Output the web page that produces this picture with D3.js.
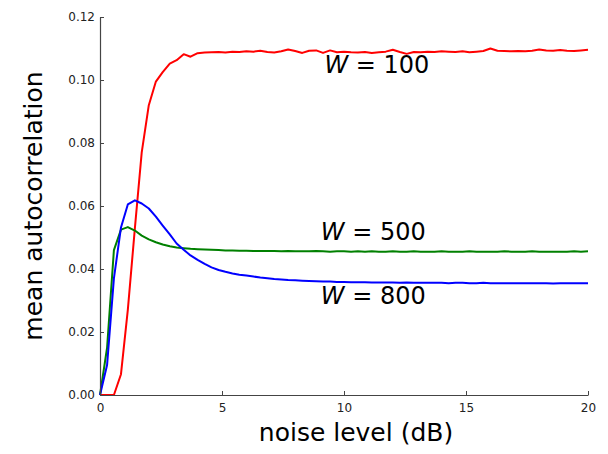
<!DOCTYPE html>
<html>
<head>
<meta charset="utf-8">
<script src="https://cdn.jsdelivr.net/npm/d3@7"></script>
<style>
  body { margin: 0; background: #fff; }
  text { font-family: "DejaVu Sans", sans-serif; }
</style>
</head>
<body>
<svg class="chart"></svg>
<script>
// noise levels (dB), 71 samples from 0 to 20
let noise = [0, 0.29, 0.57, 0.86, 1.14, 1.43, 1.71, 2, 2.29, 2.57,
  2.86, 3.14, 3.43, 3.71, 4, 4.29, 4.57, 4.86, 5.14, 5.43,
  5.71, 6, 6.29, 6.57, 6.86, 7.14, 7.43, 7.71, 8, 8.29,
  8.57, 8.86, 9.14, 9.43, 9.71, 10, 10.29, 10.57, 10.86, 11.14,
  11.43, 11.71, 12, 12.29, 12.57, 12.86, 13.14, 13.43, 13.71, 14,
  14.29, 14.57, 14.86, 15.14, 15.43, 15.71, 16, 16.29, 16.57, 16.86,
  17.14, 17.43, 17.71, 18, 18.29, 18.57, 18.86, 19.14, 19.43, 19.71, 20];

let w100 = [0, 0, 0, 0.0066, 0.027, 0.053, 0.077, 0.092, 0.0995, 0.1025,
  0.1052, 0.1063, 0.1082, 0.1074, 0.1085, 0.1087, 0.1088, 0.1089, 0.1087, 0.109,
  0.1089, 0.1091, 0.109, 0.1093, 0.1089, 0.1087, 0.1091, 0.1097, 0.1092, 0.1086,
  0.1093, 0.1094, 0.1086, 0.1094, 0.1088, 0.109, 0.1088, 0.1087, 0.1089, 0.1086,
  0.1088, 0.109, 0.1096, 0.1089, 0.1083, 0.1089, 0.1088, 0.109, 0.1089, 0.1091,
  0.109, 0.1089, 0.1091, 0.1088, 0.109, 0.1092, 0.11, 0.1093, 0.1092, 0.1091,
  0.1092, 0.1091, 0.1093, 0.1097, 0.1094, 0.1093, 0.1095, 0.1093, 0.1092, 0.1094, 0.1096];

let w500 = [0, 0.015, 0.046, 0.0525, 0.0533, 0.0522, 0.0506, 0.0494, 0.0485, 0.0478,
  0.0472, 0.0468, 0.0466, 0.0464, 0.0463, 0.0462, 0.0461, 0.046, 0.0459, 0.0459,
  0.0458, 0.0458, 0.0457, 0.0457, 0.0457, 0.0457, 0.0456, 0.0457, 0.0456, 0.0456,
  0.0456, 0.0457, 0.0456, 0.0455, 0.0456, 0.0456, 0.0455, 0.0456, 0.0455, 0.0456,
  0.0455, 0.0455, 0.0456, 0.0455, 0.0455, 0.0456, 0.0455, 0.0455, 0.0455, 0.0456,
  0.0455, 0.0455, 0.0455, 0.0456, 0.0455, 0.0455, 0.0455, 0.0455, 0.0456, 0.0455,
  0.0455, 0.0455, 0.0456, 0.0455, 0.0455, 0.0455, 0.0455, 0.0455, 0.0456, 0.0455, 0.0456];

let w800 = [0, 0.0095, 0.037, 0.0532, 0.0605, 0.0618, 0.0608, 0.0592, 0.0566, 0.0538,
  0.051, 0.0481, 0.0461, 0.0443, 0.0429, 0.0416, 0.0405, 0.0397, 0.0391, 0.0386,
  0.0382, 0.0379, 0.0376, 0.0373, 0.0371, 0.0368, 0.0367, 0.0365, 0.0364, 0.0363,
  0.0362, 0.0361, 0.036, 0.036, 0.0359, 0.0359, 0.0358, 0.0358, 0.0358, 0.0357,
  0.0357, 0.0357, 0.0357, 0.0356, 0.0357, 0.0356, 0.0356, 0.0356, 0.0356, 0.0356,
  0.0355, 0.0356, 0.0356, 0.0355, 0.0355, 0.0356, 0.0355, 0.0355, 0.0355, 0.0355,
  0.0355, 0.0355, 0.0355, 0.0355, 0.0355, 0.0354, 0.0355, 0.0355, 0.0355, 0.0355, 0.0355];

let xTicks = [0, 5, 10, 15, 20];
let yTicks = [0, 0.02, 0.04, 0.06, 0.08, 0.1, 0.12];

let series = [
  { label: "100", values: w100, color: "#ff0000", lx: 9.2, ly: 0.1022 },
  { label: "500", values: w500, color: "#008000", lx: 9.05, ly: 0.0491 },
  { label: "800", values: w800, color: "#0000ff", lx: 9.05, ly: 0.0289 },
];

let width = 608,
  height = 454;
let margin = { top: 17, right: 20, bottom: 59, left: 100 };

let svg = d3.select(".chart").attr("width", width).attr("height", height);

let x = d3.scaleLinear().domain([0, 20]).range([margin.left, width - margin.right]);
let y = d3.scaleLinear().domain([0, 0.12]).range([height - margin.bottom, margin.top]);

// lines first, axes on top
let line = d3
  .line()
  .x((d, i) => x(noise[i]))
  .y((d) => y(d));

series.forEach((s) => {
  svg
    .append("path")
    .datum(s.values)
    .attr("fill", "none")
    .attr("stroke", s.color)
    .attr("stroke-width", 2)
    .attr("stroke-linejoin", "round")
    .attr("d", line);

  let t = svg
    .append("text")
    .attr("x", x(s.lx))
    .attr("y", y(s.ly))
    .attr("font-size", "24px")
    .attr("fill", "#000");
  t.append("tspan").attr("font-style", "italic").text("W");
  t.append("tspan").text(" = " + s.label);
});

// x axis
let xAxis = svg
  .append("g")
  .attr("transform", "translate(0," + y(0) + ")")
  .call(
    d3.axisBottom(x).tickValues(xTicks).tickSizeInner(-4).tickSizeOuter(0).tickPadding(8)
  );

// y axis
let yAxis = svg
  .append("g")
  .attr("transform", "translate(" + x(0) + ",0)")
  .call(
    d3
      .axisLeft(y)
      .tickValues(yTicks)
      .tickSizeInner(-4)
      .tickSizeOuter(0)
      .tickPadding(5)
      .tickFormat(d3.format(".2f"))
  );

[xAxis, yAxis].forEach((g) => {
  g.select(".domain").attr("stroke", "#444").attr("stroke-width", 1.2);
  g.selectAll(".tick line").attr("stroke", "#444");
  g.selectAll(".tick text")
    .attr("font-size", "12px")
    .attr("fill", "#222")
    .attr("font-family", "DejaVu Sans, sans-serif");
});

svg
  .append("text")
  .attr("x", 356)
  .attr("y", 441)
  .attr("text-anchor", "middle")
  .attr("font-size", "25px")
  .text("noise level (dB)");

svg
  .append("text")
  .attr("transform", "translate(42," + (y(0) + y(0.12)) / 2 + ") rotate(-90)")
  .attr("text-anchor", "middle")
  .attr("font-size", "25px")
  .text("mean autocorrelation");
</script>
</body>
</html>
